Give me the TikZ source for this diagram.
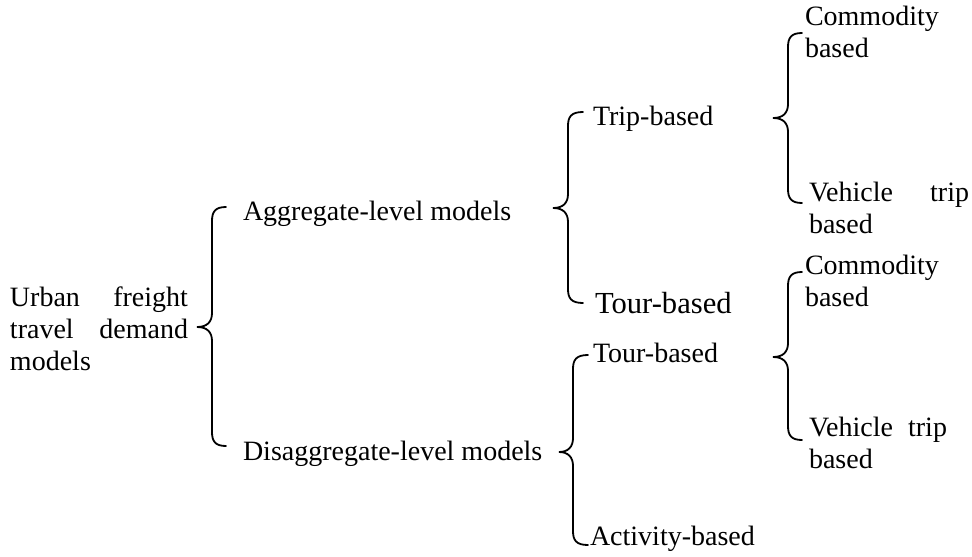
\documentclass[tikz,border=0pt]{standalone}
\usepackage{fontspec}
\setmainfont{Liberation Serif}
% curly brace: end x, spine x, tip x, top y, tip y, bottom y
\newcommand\drawbrace[6]{%
  \draw[bracestroke] (#1,#4) .. controls (#2+3,#4) and (#2,#4+5) .. (#2,#4+14)
    -- (#2,#5-14) .. controls (#2,#5-5) and (#2-5,#5) .. (#3,#5)
    .. controls (#2-5,#5) and (#2,#5+5) .. (#2,#5+14)
    -- (#2,#6-14) .. controls (#2,#6-5) and (#2+3,#6) .. (#1,#6);}
\begin{document}
\begin{tikzpicture}[x=0.5pt,y=-0.5pt,
  lbl/.style={inner sep=0pt,outer sep=0pt,anchor=base west,align=left,
    font=\fontsize{14}{16}\selectfont},
  biglbl/.style={lbl,font=\fontsize{15.3}{18}\selectfont},
  bracestroke/.style={line width=0.9pt,line cap=round}]
\useasboundingbox (0,0) rectangle (972,556);

% root (multi-line nodes sit on the baseline of their last line)
\node[lbl] (root) at (10,370) {\makebox[89pt][s]{Urban freight}\\
  \makebox[89pt][s]{travel demand}\\ models};

% second level
\node[lbl] (agg) at (243,220) {Aggregate-level models};
\node[lbl] (dis) at (243,460) {Disaggregate-level models};

% third level
\node[lbl] (trip) at (593,125) {Trip-based};
\node[biglbl] (touragg) at (595,313) {Tour-based};
\node[lbl] (tourdis) at (593,362) {Tour-based};
\node[lbl] (act) at (590,545) {Activity-based};

% fourth level
\node[lbl] (comA) at (805,58) {Commodity\\ based};
\node[lbl] (vehA) at (809,233) {\makebox[80pt][s]{Vehicle trip}\\ based};
\node[lbl] (comB) at (805,306) {Commodity\\ based};
\node[lbl] (vehB) at (809,468) {\makebox[69pt][s]{Vehicle trip}\\ based};

% braces
\drawbrace{226}{212}{197}{207}{327}{446}
\drawbrace{583}{568}{553}{112}{208}{303}
\drawbrace{802}{788}{773}{33}{118}{203}
\drawbrace{802}{788}{773}{272}{357}{440}
\drawbrace{588}{573}{559}{355}{452}{545}
\end{tikzpicture}
\end{document}
